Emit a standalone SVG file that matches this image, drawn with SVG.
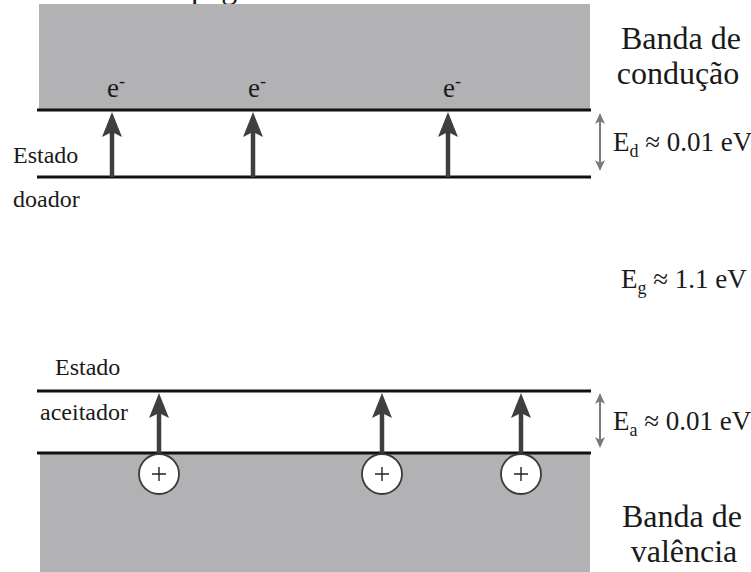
<svg xmlns="http://www.w3.org/2000/svg" width="751" height="572" viewBox="0 0 751 572">
  <style>
    .band { fill: #b2b2b4; }
    .level { stroke: #111; stroke-width: 3; fill: none; }
    .shaft { stroke: #3f3f3f; stroke-width: 4.5; fill: none; }
    .head { fill: #3f3f3f; }
    .gap { stroke: #7a7a7a; stroke-width: 2; fill: none; }
    .gaphead { fill: #7a7a7a; }
    .hole { fill: #fff; stroke: #3a3a3a; stroke-width: 1.8; }
    .plus { stroke: #222; stroke-width: 1.4; }
    .t { fill: #1a1a1a; }
    .big { font-size: 32px; }
    .lab { font-size: 24px; }
    .en { font-size: 27px; }
    .el { font-size: 27px; }
  </style>
  <defs>
    <path id="uphead" d="M0,0 L-10,25 L0,20 L10,25 Z" class="head"/>
    <path id="gapup" d="M0,0 L-5,11 L0,8 L5,11 Z" class="gaphead"/>
    <path id="gapdn" d="M0,0 L-5,-11 L0,-8 L5,-11 Z" class="gaphead"/>
  </defs>

  <g font-family="Liberation Serif, Times New Roman, DejaVu Serif, serif">
  <text x="191" y="-2" class="t big">página</text>

  <g id="conduction-band">
    <rect class="band" x="39" y="4" width="551" height="106"/>
    <line class="level" x1="37" y1="110" x2="591" y2="110"/>
    <text x="681" y="49" class="t big" text-anchor="middle">Banda de</text>
    <text x="678" y="84" class="t big" text-anchor="middle">condução</text>
  </g>

  <g id="donor-level">
    <line class="level" x1="37" y1="177" x2="591" y2="177"/>
    <text x="13" y="163" class="t lab">Estado</text>
    <text x="13" y="207" class="t lab">doador</text>
  </g>

  <g id="electrons">
    <text x="107" y="97" class="t el">e<tspan font-size="18" dy="-10">-</tspan></text>
    <text x="248" y="97" class="t el">e<tspan font-size="18" dy="-10">-</tspan></text>
    <text x="443" y="97" class="t el">e<tspan font-size="18" dy="-10">-</tspan></text>
  </g>

  <g id="gap-labels">
    <text x="613" y="151" class="t en">E<tspan font-size="18" dy="6">d</tspan><tspan dy="-6"> ≈ 0.01 eV</tspan></text>
    <text x="621" y="288" class="t en">E<tspan font-size="18" dy="6">g</tspan><tspan dy="-6"> ≈ 1.1 eV</tspan></text>
    <text x="613" y="430" class="t en">E<tspan font-size="18" dy="6">a</tspan><tspan dy="-6"> ≈ 0.01 eV</tspan></text>
  </g>

  <g id="acceptor-level">
    <line class="level" x1="37" y1="391" x2="591" y2="391"/>
    <text x="55" y="375" class="t lab">Estado</text>
    <text x="40" y="420" class="t lab" font-size="25">aceitador</text>
  </g>

  <g id="valence-band">
    <rect class="band" x="40" y="453" width="550" height="119"/>
    <line class="level" x1="37" y1="453" x2="591" y2="453"/>
    <text x="682" y="527" class="t big" text-anchor="middle">Banda de</text>
    <text x="684" y="562" class="t big" text-anchor="middle">valência</text>
  </g>
  </g>

  <g id="connectors">
    <line class="shaft" x1="112" y1="177" x2="112" y2="132"/>
    <use href="#uphead" x="112" y="112"/>
    <line class="shaft" x1="253" y1="177" x2="253" y2="132"/>
    <use href="#uphead" x="253" y="112"/>
    <line class="shaft" x1="448" y1="177" x2="448" y2="132"/>
    <use href="#uphead" x="448" y="112"/>

    <line class="shaft" x1="159" y1="453" x2="159" y2="412"/>
    <use href="#uphead" x="159" y="393"/>
    <line class="shaft" x1="382" y1="453" x2="382" y2="412"/>
    <use href="#uphead" x="382" y="393"/>
    <line class="shaft" x1="521" y1="453" x2="521" y2="412"/>
    <use href="#uphead" x="521" y="393"/>

    <line class="gap" x1="600" y1="120" x2="600" y2="164"/>
    <use href="#gapup" x="600" y="113"/>
    <use href="#gapdn" x="600" y="171"/>
    <line class="gap" x1="600" y1="400" x2="600" y2="441"/>
    <use href="#gapup" x="600" y="393"/>
    <use href="#gapdn" x="600" y="448"/>
  </g>

  <g id="hole-1">
    <circle class="hole" cx="159" cy="474" r="20"/>
    <path class="plus" d="M152,474 H166 M159,467 V481"/>
  </g>
  <g id="hole-2">
    <circle class="hole" cx="382" cy="474" r="20"/>
    <path class="plus" d="M375,474 H389 M382,467 V481"/>
  </g>
  <g id="hole-3">
    <circle class="hole" cx="521" cy="474" r="20"/>
    <path class="plus" d="M514,474 H528 M521,467 V481"/>
  </g>
</svg>
